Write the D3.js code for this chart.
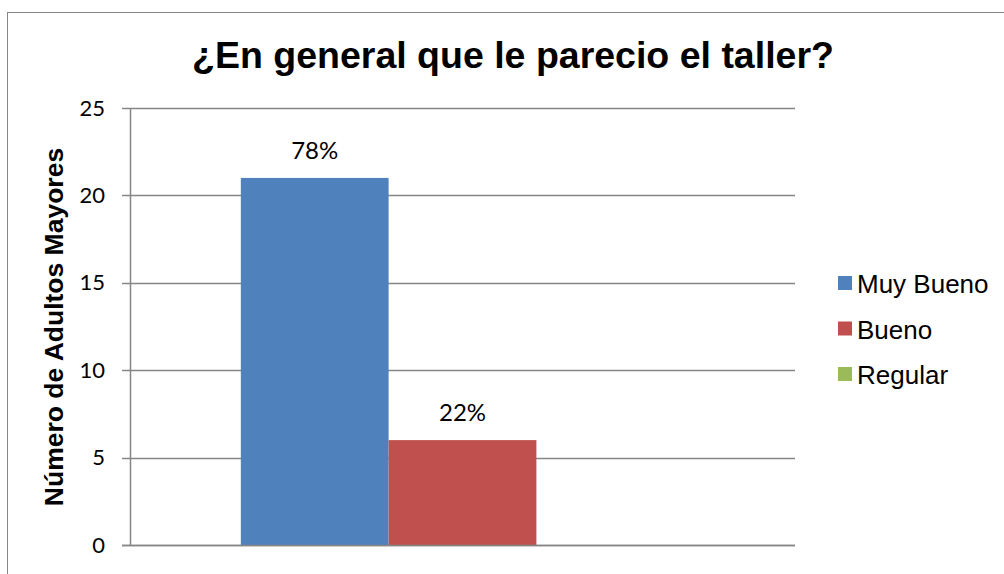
<!DOCTYPE html>
<html>
<head>
<meta charset="utf-8">
<script src="https://cdn.jsdelivr.net/npm/d3@7"></script>
<style>
  body { margin: 0; background: #fff; }
  svg { display: block; }
</style>
</head>
<body>
<figure id="chart" style="margin:0"></figure>
<script>
// data
const categories = [""];
const series = ["Muy Bueno", "Bueno", "Regular"];
const values = [21, 6, 0];
const labels = ["78%", "22%", ""];
const colors = ["#4f81bd", "#c0504d", "#9bbb59"];
const yTicks = [0, 5, 10, 15, 20, 25];

const width = 1004, height = 574;
const plot = { left: 130, right: 795, top: 108, bottom: 545 };

const svg = d3.select("#chart").append("svg")
  .attr("width", width)
  .attr("height", height);

// chart frame
svg.append("rect")
  .attr("x", 7.5).attr("y", 12.5)
  .attr("width", 1010).attr("height", 600)
  .attr("fill", "#fff")
  .attr("stroke", "#868686");

const y = d3.scaleLinear().domain([0, 25]).range([plot.bottom, plot.top]);
const x0 = d3.scaleBand().domain(categories).range([plot.left, plot.right]).paddingInner(0).paddingOuter(0.25);
const x1 = d3.scaleBand().domain(series).range([0, x0.bandwidth()]);

// gridlines
svg.append("g")
  .selectAll("line")
  .data(yTicks)
  .enter()
  .append("line")
  .attr("x1", plot.left - 8)
  .attr("x2", plot.right)
  .attr("y1", d => Math.round(y(d)) + 0.5)
  .attr("y2", d => Math.round(y(d)) + 0.5)
  .attr("stroke", "#868686")
  .attr("stroke-width", 1.5);

// y axis
const yAxis = svg.append("g")
  .attr("transform", "translate(" + plot.left + ",0)")
  .call(d3.axisLeft(y).tickValues(yTicks).tickSize(0).tickPadding(25));
yAxis.select(".domain").attr("stroke", "#868686").attr("stroke-width", 1.5);
yAxis.selectAll("text")
  .attr("font-family", "Lato, 'Open Sans', sans-serif")
  .attr("font-size", 22)
  .attr("fill", "#000");

// bars
const bars = svg.append("g").selectAll("g")
  .data(categories)
  .enter()
  .append("g")
  .attr("transform", d => "translate(" + x0(d) + ",0)");

bars.selectAll("rect")
  .data(series.map((s, i) => ({ s, v: values[i], c: colors[i], l: labels[i] })))
  .enter()
  .append("rect")
  .attr("x", d => x1(d.s))
  .attr("y", d => y(d.v))
  .attr("width", x1.bandwidth())
  .attr("height", d => y(0) - y(d.v))
  .attr("fill", d => d.c);

bars.selectAll("text")
  .data(series.map((s, i) => ({ s, v: values[i], l: labels[i] })).filter(d => d.l))
  .enter()
  .append("text")
  .attr("x", d => x1(d.s) + x1.bandwidth() / 2)
  .attr("y", d => y(d.v) - 19)
  .attr("text-anchor", "middle")
  .attr("font-family", "Lato, 'Open Sans', sans-serif")
  .attr("font-size", 24)
  .text(d => d.l);

// x axis baseline
svg.append("line")
  .attr("x1", plot.left - 8).attr("x2", plot.right)
  .attr("y1", Math.round(y(0)) + 0.5).attr("y2", Math.round(y(0)) + 0.5)
  .attr("stroke", "#868686").attr("stroke-width", 1.5);

// title
svg.append("text")
  .attr("x", 513)
  .attr("y", 68)
  .attr("text-anchor", "middle")
  .attr("font-family", "'Liberation Sans', Arial, sans-serif")
  .attr("font-weight", "bold")
  .attr("font-size", 37.5)
  .text("¿En general que le parecio el taller?");

// y title
svg.append("text")
  .attr("transform", "translate(63,327) rotate(-90)")
  .attr("text-anchor", "middle")
  .attr("font-family", "'Liberation Sans', Arial, sans-serif")
  .attr("font-weight", "bold")
  .attr("font-size", 26.5)
  .text("Número de Adultos Mayores");

// legend
const legend = svg.append("g").selectAll("g")
  .data(series)
  .enter()
  .append("g")
  .attr("transform", (d, i) => "translate(838," + (283 + i * 45.5) + ")");

legend.append("rect")
  .attr("x", 0).attr("y", -7)
  .attr("width", 14).attr("height", 14)
  .attr("fill", (d, i) => colors[i]);

legend.append("text")
  .attr("x", 19)
  .attr("y", 10)
  .attr("font-family", "'Liberation Sans', Arial, sans-serif")
  .attr("font-size", 26)
  .text(d => d);
</script>
</body>
</html>
